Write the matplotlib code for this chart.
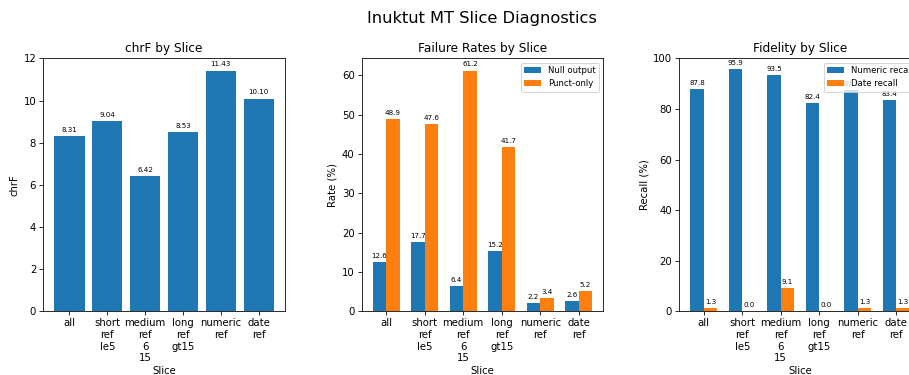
import numpy as np
import matplotlib
matplotlib.use("Agg")
import matplotlib.pyplot as plt

slices = ["all", "short_ref_le5", "medium_ref_6_15", "long_ref_gt15", "numeric_ref", "date_ref"]
chrf = [8.31, 9.04, 6.42, 8.53, 11.43, 10.10]
null_output = [12.6, 17.7, 6.4, 15.2, 2.2, 2.6]
punct_only = [48.9, 47.6, 61.2, 41.7, 3.4, 5.2]
numeric_recall = [87.8, 95.9, 93.5, 82.4, 87.5, 83.4]
date_recall = [1.3, 0.0, 9.1, 0.0, 1.3, 1.3]

labels = [s.replace("_", "\n") for s in slices]
x = np.arange(len(slices))
w = 0.35

# bigger canvas at lower dpi -> 910x375 px with default font sizes scaled down
DPI = 73
fig = plt.figure(figsize=(910 / DPI, 375 / DPI), dpi=DPI)
fig.suptitle("Inuktut MT Slice Diagnostics", fontsize=16, x=0.53, y=0.97)

ax1 = fig.add_axes([0.0476, 0.17, 0.2654, 0.674])
ax2 = fig.add_axes([0.3975, 0.17, 0.2654, 0.674])
ax3 = fig.add_axes([0.7465, 0.17, 0.2654, 0.674])


def label_bars(ax, bars, vals, fmt):
    for b, v in zip(bars, vals):
        ax.annotate(fmt.format(v), (b.get_x() + b.get_width() / 2, v), xytext=(0, 3),
                    textcoords="offset points", ha="center", va="bottom", fontsize=7)


# chrF
bars = ax1.bar(x, chrf)
label_bars(ax1, bars, chrf, "{:.2f}")
ax1.set_xticks(x)
ax1.set_xticklabels(labels)
ax1.set_title("chrF by Slice")
ax1.set_xlabel("Slice", labelpad=3)
ax1.set_ylabel("chrF")
ax1.set_ylim(0, 12)

# failure rates
b1 = ax2.bar(x - w / 2, null_output, w, label="Null output")
b2 = ax2.bar(x + w / 2, punct_only, w, label="Punct-only")
label_bars(ax2, b1, null_output, "{:.1f}")
label_bars(ax2, b2, punct_only, "{:.1f}")
ax2.set_xticks(x)
ax2.set_xticklabels(labels)
ax2.set_title("Failure Rates by Slice")
ax2.set_xlabel("Slice", labelpad=3)
ax2.set_ylabel("Rate (%)")
ax2.legend(fontsize="small")

# fidelity
b3 = ax3.bar(x - w / 2, numeric_recall, w, label="Numeric recall")
b4 = ax3.bar(x + w / 2, date_recall, w, label="Date recall")
label_bars(ax3, b3, numeric_recall, "{:.1f}")
label_bars(ax3, b4, date_recall, "{:.1f}")
ax3.set_xticks(x)
ax3.set_xticklabels(labels)
ax3.set_title("Fidelity by Slice")
ax3.set_xlabel("Slice", labelpad=3)
ax3.set_ylabel("Recall (%)")
ax3.set_ylim(0, 100)
ax3.legend(fontsize="small", loc="upper right")

fig.savefig("out.png", dpi=DPI)
